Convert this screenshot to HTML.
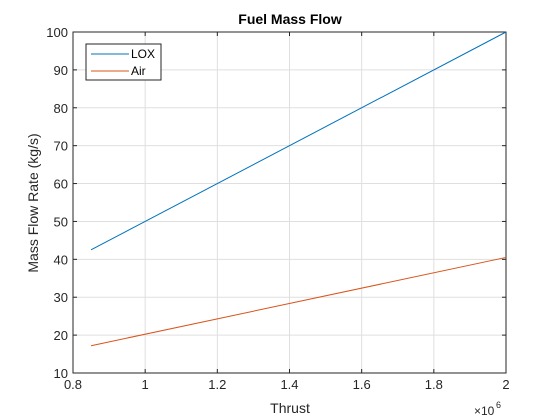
<!DOCTYPE html>
<html><head><meta charset="utf-8"><style>body{margin:0;background:#fff}svg{display:block;font-family:"Liberation Sans",sans-serif}</style></head>
<body>
<svg id="c" width="560" height="420"></svg>
<script>
const xTicks=[0.8,1,1.2,1.4,1.6,1.8,2];
const xTickLabels=["0.8","1","1.2","1.4","1.6","1.8","2"];
const yTicks=[10,20,30,40,50,60,70,80,90,100];
const thrust=[0.85,2.0];
const lox=[42.5,100];
const air=[17.2,40.5];
const L=73,R=506,T=32,B=373;
const sx=v=>L+(v-0.8)/(2-0.8)*(R-L);
const sy=v=>B-(v-10)/(100-10)*(B-T);
const svg=document.getElementById('c');const NS='http://www.w3.org/2000/svg';
function mk(t,a,txt){const e=document.createElementNS(NS,t);for(const k in a)e.setAttribute(k,a[k]);if(txt!==undefined)e.textContent=txt;svg.appendChild(e);return e;}
let e=mk('rect',{x:L,y:T,width:R-L,height:B-T,fill:'#fff'});


xTicks.forEach((v,i)=>{const x=sx(v);
 let g=mk('line',{x1:x,x2:x,y1:T,y2:B,stroke:'#dfdfdf'});
 
 
 mk('line',{x1:x,x2:x,y1:B,y2:B-4,stroke:'#262626'});
 mk('line',{x1:x,x2:x,y1:T,y2:T+4,stroke:'#262626'});
 let t=mk('text',{x:x,y:B+16,'font-size':13,'text-anchor':'middle',fill:'#262626'},xTickLabels[i]);
 
 
});
yTicks.forEach(v=>{const y=sy(v);
 let g=mk('line',{x1:L,x2:R,y1:y,y2:y,stroke:'#dfdfdf'});
 
 
 mk('line',{x1:L,x2:L+4,y1:y,y2:y,stroke:'#262626'});
 mk('line',{x1:R,x2:R-4,y1:y,y2:y,stroke:'#262626'});
 let t=mk('text',{x:L-5,y:y+5,'font-size':13,'text-anchor':'end',fill:'#262626'},String(v));
 
 
});
e=mk('rect',{x:L,y:T,width:R-L,height:B-T,fill:'none',stroke:'#262626'});


function series(vals,color,name){const p=thrust.map((x,i)=>sx(x)+','+sy(vals[i])).join(' ');
 const l=mk('polyline',{points:p,fill:'none',stroke:color,'stroke-width':1});
 
 }
series(lox,'#0072bd','lox-line');
series(air,'#d95319','air-line');
e=mk('text',{x:290,y:24,'font-size':14,'font-weight':'bold','text-anchor':'middle',fill:'#000'},'Fuel Mass Flow');


e=mk('text',{x:290,y:413,'font-size':14,'text-anchor':'middle',fill:'#262626'},'Thrust');


e=mk('text',{x:0,y:0,'font-size':14,'text-anchor':'middle',fill:'#262626',transform:'translate(38,203) rotate(-90)'},'Mass Flow Rate (kg/s)');


e=mk('text',{x:474,y:415,'font-size':12,fill:'#262626'},'×10');


mk('text',{x:496,y:408,'font-size':9,fill:'#262626'},'6');
e=mk('rect',{x:86,y:44,width:75,height:36,fill:'#fff',stroke:'#262626'});


[['LOX','#0072bd',54],['Air','#d95319',71]].forEach(([n,c,y])=>{
 mk('line',{x1:91,x2:129,y1:y,y2:y,stroke:c});
 let t=mk('text',{x:131,y:y+4,'font-size':12,fill:'#000'},n);
 
 
});
</script>
</body></html>
